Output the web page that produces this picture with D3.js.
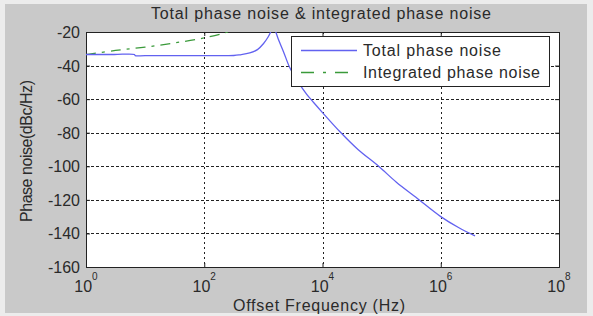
<!DOCTYPE html>
<html>
<head>
<meta charset="utf-8">
<script src="https://cdn.jsdelivr.net/npm/d3@7"></script>
<style>
  body { margin: 0; background: #ececec; }
  svg text { font-family: "Liberation Sans", Arial, sans-serif; fill: #2a2a2a; }
</style>
</head>
<body>
<div id="chart"></div>
<script>
// chart data
var totalFreq = [1, 3, 6.6, 6.8, 10, 100, 316, 398, 589, 794, 1000, 1202, 1349, 1479,
  1585, 1778, 2188, 2818, 3981, 5370, 7079, 10000, 19953, 39811, 89125, 177828,
  380189, 1000000, 1995262, 3801894];
var totalDb = [-33.4, -33.4, -33.4, -34.1, -34.1, -34.1, -34.0, -33.6, -32.5, -30.5, -27,
  -23, -19.5, -16, -19, -24, -31.7, -41.5, -50.5, -57, -62, -68, -79.6, -90, -100,
  -109.5, -118.5, -130, -136.5, -141.5];

var intFreq = [1, 3.16, 10, 31.6, 100, 251, 400];
var intDb = [-33.5, -31, -29, -26.5, -23.5, -20, -17.5];

var xTicks = [0, 2, 4, 6, 8]; // exponents
var yTicks = [-20, -40, -60, -80, -100, -120, -140, -160];

var seriesNames = ["Total phase noise", "Integrated phase noise"];

var width = 593;
var height = 316;

// plot box (note: "top" is taken by window.top)
var plotL = 86, plotR = 559, plotT = 32, plotB = 267;

var svg = d3.select("#chart")
  .append("svg")
  .attr("width", width)
  .attr("height", height);

// figure background (matlab grey)
svg.append("rect")
  .attr("x", 0).attr("y", 0)
  .attr("width", width).attr("height", height)
  .attr("fill", "#ececec");
svg.append("rect")
  .attr("x", 5).attr("y", 4)
  .attr("width", 582).attr("height", 309)
  .attr("fill", "#c9c9c9");

svg.append("rect")
  .attr("x", plotL).attr("y", plotT)
  .attr("width", plotR - plotL).attr("height", plotB - plotT)
  .attr("fill", "#fff");

var xScale = d3.scaleLog().domain([1, 1e8]).range([plotL, plotR]);
var yScale = d3.scaleLinear().domain([-160, -20]).range([plotB, plotT]);

var tickVals = xTicks.map(function(e) { return Math.pow(10, e); });

// grid lines
svg.append("g")
  .selectAll("line")
  .data(tickVals.slice(1, -1))
  .enter()
  .append("line")
  .attr("x1", function(d) { return Math.round(xScale(d)) + 0.5; })
  .attr("x2", function(d) { return Math.round(xScale(d)) + 0.5; })
  .attr("y1", plotT).attr("y2", plotB)
  .attr("stroke", "#222")
  .attr("stroke-dasharray", "2,3");

svg.append("g")
  .selectAll("line")
  .data(yTicks.slice(1, -1))
  .enter()
  .append("line")
  .attr("y1", function(d) { return Math.round(yScale(d)) + 0.5; })
  .attr("y2", function(d) { return Math.round(yScale(d)) + 0.5; })
  .attr("x1", plotL).attr("x2", plotR)
  .attr("stroke", "#222")
  .attr("stroke-dasharray", "3,2");

// axes with inward ticks
var xAxis = d3.axisBottom(xScale).tickValues(tickVals).tickSize(-4).tickFormat("");
var xAxisTop = d3.axisTop(xScale).tickValues(tickVals).tickSize(-4).tickFormat("");
var yAxis = d3.axisLeft(yScale).tickValues(yTicks).tickSize(-4).tickFormat("");
var yAxisRight = d3.axisRight(yScale).tickValues(yTicks).tickSize(-4).tickFormat("");

svg.append("g").attr("transform", "translate(0," + plotB + ")").call(xAxis);
svg.append("g").attr("transform", "translate(0," + plotT + ")").call(xAxisTop);
svg.append("g").attr("transform", "translate(" + plotL + ",0)").call(yAxis);
svg.append("g").attr("transform", "translate(" + plotR + ",0)").call(yAxisRight);
svg.selectAll(".domain, .tick line").attr("stroke", "#222");

// tick labels
svg.append("g")
  .selectAll("text")
  .data(yTicks)
  .enter()
  .append("text")
  .attr("x", plotL - 6)
  .attr("y", function(d) { return yScale(d) + 6; })
  .attr("text-anchor", "end")
  .attr("font-size", 16)
  .text(function(d) { return d; });

var xLab = svg.append("g")
  .selectAll("text")
  .data(xTicks)
  .enter()
  .append("text")
  .attr("x", function(d) { return xScale(Math.pow(10, d)); })
  .attr("y", 292)
  .attr("text-anchor", "middle")
  .attr("font-size", 16);
xLab.append("tspan").text("10");
xLab.append("tspan")
  .attr("dy", -12)
  .attr("font-size", 10)
  .text(function(d) { return d; });

// titles
svg.append("text")
  .attr("x", 321).attr("y", 19)
  .attr("text-anchor", "middle")
  .attr("font-size", 16)
  .attr("textLength", 340)
  .attr("lengthAdjust", "spacing")
  .text("Total phase noise & integrated phase noise");

svg.append("text")
  .attr("x", 319).attr("y", 311)
  .attr("text-anchor", "middle")
  .attr("font-size", 16)
  .attr("textLength", 172)
  .attr("lengthAdjust", "spacing")
  .text("Offset Frequency (Hz)");

svg.append("text")
  .attr("transform", "translate(32,151)rotate(-90)")
  .attr("text-anchor", "middle")
  .attr("font-size", 16)
  .attr("textLength", 142)
  .attr("lengthAdjust", "spacing")
  .text("Phase noise(dBc/Hz)");

// curves
svg.append("clipPath").attr("id", "plotClip")
  .append("rect")
  .attr("x", plotL).attr("y", plotT)
  .attr("width", plotR - plotL).attr("height", plotB - plotT);

var line = d3.line()
  .x(function(d) { return xScale(d[0]); })
  .y(function(d) { return yScale(d[1]); })
  .curve(d3.curveCatmullRom.alpha(0.5));

svg.append("path")
  .datum(d3.zip(intFreq, intDb))
  .attr("d", line)
  .attr("clip-path", "url(#plotClip)")
  .attr("fill", "none")
  .attr("stroke", "#3a9a3a")
  .attr("stroke-width", 1.3)
  .attr("stroke-dasharray", "10,6,3,6");

svg.append("path")
  .datum(d3.zip(totalFreq, totalDb))
  .attr("d", line)
  .attr("clip-path", "url(#plotClip)")
  .attr("fill", "none")
  .attr("stroke", "#6262f0")
  .attr("stroke-width", 1.3);

// legend
var legend = svg.append("g");
legend.append("rect")
  .attr("x", 291.5).attr("y", 36.5)
  .attr("width", 258).attr("height", 50)
  .attr("fill", "#fff")
  .attr("stroke", "#222");

var legColors = ["#6262f0", "#3a9a3a"];
var legDash = [null, "13,9,3,9"];
var legWidths = [138, 177];

seriesNames.forEach(function(name, i) {
  var ly = 50.5 + i * 22;
  legend.append("line")
    .attr("x1", 301).attr("x2", 357)
    .attr("y1", ly).attr("y2", ly)
    .attr("stroke", legColors[i])
    .attr("stroke-width", 1.5)
    .attr("stroke-dasharray", legDash[i]);
  legend.append("text")
    .attr("x", 363).attr("y", ly + 5)
    .attr("font-size", 16)
    .attr("textLength", legWidths[i])
    .attr("lengthAdjust", "spacing")
    .text(name);
});
</script>
</body>
</html>
